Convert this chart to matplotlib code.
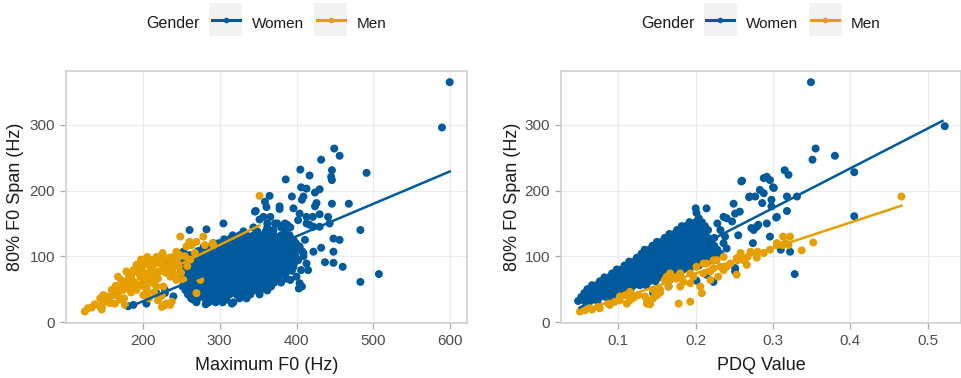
import numpy as np
import matplotlib.pyplot as plt
from matplotlib.patches import Rectangle
from matplotlib.lines import Line2D

plt.rcParams['font.family'] = ['Liberation Sans', 'DejaVu Sans']

W, H = 962, 378
BLUE = '#005A9C'
ORANGE = '#E69F00'

# ---------------- data ----------------
# left panel: Maximum F0 (Hz) vs 80% F0 span (Hz)
# dense core of the women's cloud, stored as rows: (span, [max F0 ...])
women_f0_core = [
    (30, [270, 286, 295, 304, 318]),
    (36, [263, 272, 281, 290, 299, 308, 326, 335]),
    (42, [259, 268, 277, 286, 295, 304, 313, 322, 331, 340, 352]),
    (48, [256, 263, 272, 281, 290, 299, 308, 317, 326, 335, 344, 353, 362]),
    (54, [252, 259, 268, 277, 286, 295, 304, 313, 322, 331, 340, 349, 358, 367]),
    (60, [254, 263, 272, 281, 290, 299, 308, 317, 326, 335, 344, 353, 362, 371, 380]),
    (66, [250, 259, 268, 277, 286, 295, 304, 313, 322, 331, 340, 349, 358, 367, 376, 387]),
    (72, [254, 263, 272, 281, 290, 299, 308, 317, 326, 335, 344, 353, 362, 371, 380]),
    (78, [250, 259, 268, 277, 286, 295, 304, 313, 322, 331, 340, 349, 358, 367, 376, 385, 394]),
    (84, [256, 263, 272, 281, 290, 299, 308, 317, 326, 335, 344, 353, 362, 371, 380, 389]),
    (90, [252, 259, 268, 277, 286, 295, 304, 313, 322, 331, 340, 349, 358, 367, 376, 385, 397]),
    (96, [257, 263, 272, 281, 290, 299, 308, 317, 326, 335, 344, 353, 362, 371, 380, 389, 400]),
    (102, [261, 268, 277, 286, 295, 304, 313, 322, 331, 340, 349, 358, 367, 376, 385, 394]),
    (108, [272, 281, 290, 299, 308, 317, 326, 335, 344, 353, 362, 371, 380, 389, 398, 407]),
    (114, [279, 286, 295, 304, 313, 322, 331, 340, 349, 358, 367, 376, 385, 394]),
    (120, [292, 299, 308, 317, 326, 335, 344, 353, 362, 371, 380, 389, 399]),
    (126, [306, 313, 322, 331, 340, 349, 358, 367, 376, 385, 394]),
    (132, [317, 326, 335, 344, 353, 362, 371, 380, 389]),
    (138, [331, 349, 360, 367, 385]),
    (144, [344, 362, 380, 392]),
    (150, [362, 375, 385]),
]
women_f0_scatter = [
    (599, 365), (589, 296), (491, 227), (483, 140), (483, 61), (507, 73), (468, 180),
    (460, 84), (448, 90), (448, 107), (432, 113), (437, 91), (422, 107), (456, 125),
    (448, 127), (446, 180), (449, 264), (456, 253), (432, 247), (446, 231), (446, 216),
    (445, 221), (405, 232), (417, 223), (386, 217), (406, 205), (430, 202), (424, 197),
    (409, 191), (394, 191), (407, 186), (424, 176), (430, 164), (378, 176), (365, 192),
    (359, 183), (347, 169), (357, 160), (366, 160), (372, 150), (396, 173), (404, 165),
    (413, 160), (402, 155), (413, 150), (422, 145), (441, 160), (443, 150), (430, 145),
    (385, 139), (391, 132), (380, 130), (396, 125), (404, 115), (409, 105), (402, 94),
    (396, 84), (400, 69), (404, 59), (403, 51), (390, 94), (383, 84), (413, 89),
    (415, 79), (386, 74), (374, 94), (361, 74), (359, 54), (344, 49), (339, 44),
    (326, 44), (309, 34), (292, 41), (274, 44), (266, 34), (240, 39), (229, 49),
    (218, 44), (205, 28), (188, 26), (181, 24), (231, 95), (253, 107), (261, 140),
    (283, 141), (229, 44), (229, 26), (261, 44), (305, 150), (346, 168), (361, 175),
    (378, 172), (411, 125), (409, 100), (406, 79), (407, 54), (417, 148), (421, 160),
    (426, 181), (413, 203), (392, 64), (398, 102), (388, 148), (370, 140), (352, 156),
    (316, 28), (282, 27),
]
men_f0 = [
    (125, 16), (129, 21), (145, 36), (149, 41), (153, 36), (147, 19), (158, 29), (166, 46),
    (168, 69), (171, 54), (175, 49), (179, 77), (181, 64), (186, 74), (188, 79), (192, 87),
    (199, 94), (197, 69), (205, 74), (210, 84), (214, 94), (218, 99), (223, 89), (227, 82),
    (231, 97), (236, 89), (240, 99), (244, 107), (249, 130), (257, 115), (264, 117),
    (270, 122), (279, 130), (281, 117), (292, 117), (291, 120), (171, 34), (164, 28),
    (177, 26), (229, 26), (238, 31), (218, 54), (209, 61), (240, 74), (244, 64), (275, 64),
    (352, 192), (268, 105), (147, 23), (153, 39), (176, 36), (179, 54), (199, 82),
    (198, 95), (210, 94), (214, 87), (223, 99), (220, 77), (231, 82), (236, 69),
    (261, 122), (248, 102), (242, 87), (210, 69), (201, 64), (188, 61), (192, 49),
    (201, 41), (214, 59), (227, 54), (231, 28), (225, 23), (236, 26), (244, 67),
    (253, 64), (270, 44), (145, 23), (160, 49), (183, 58), (205, 52), (195, 88),
    (206, 99), (226, 105), (185, 68), (195, 75), (215, 72), (225, 90), (235, 98),
    (245, 92), (255, 100), (190, 60), (200, 55), (215, 45), (225, 40), (185, 45),
    (175, 60), (165, 55), (160, 40), (208, 36), (220, 33), (250, 75), (258, 85),
    (262, 95), (172, 64), (182, 72), (193, 82), (203, 88), (212, 78), (220, 66),
    (230, 75), (238, 80), (247, 84), (196, 56), (206, 46), (168, 40), (155, 30),
    (138, 27), (134, 22),
]

# right panel: PDQ value vs 80% F0 span (Hz)
women_pdq_core = [
    (32, [0.048, 0.056, 0.064, 0.073]),
    (38, [0.052, 0.060, 0.068, 0.076, 0.084, 0.092]),
    (44, [0.056, 0.064, 0.072, 0.080, 0.088, 0.096, 0.104]),
    (50, [0.060, 0.068, 0.076, 0.084, 0.092, 0.100, 0.108, 0.116]),
    (56, [0.066, 0.072, 0.080, 0.088, 0.096, 0.104, 0.112, 0.120, 0.128, 0.136]),
    (62, [0.076, 0.084, 0.092, 0.100, 0.108, 0.116, 0.124, 0.132, 0.140, 0.148]),
    (68, [0.082, 0.088, 0.096, 0.104, 0.112, 0.120, 0.128, 0.136, 0.144, 0.152, 0.160]),
    (74, [0.092, 0.100, 0.108, 0.116, 0.124, 0.132, 0.140, 0.148, 0.156, 0.164, 0.172,
          0.180]),
    (80, [0.098, 0.104, 0.112, 0.120, 0.128, 0.136, 0.144, 0.152, 0.160, 0.168, 0.176,
          0.184, 0.192]),
    (86, [0.108, 0.116, 0.124, 0.132, 0.140, 0.148, 0.156, 0.164, 0.172, 0.180, 0.188,
          0.196, 0.204]),
    (92, [0.114, 0.120, 0.128, 0.136, 0.144, 0.152, 0.160, 0.168, 0.176, 0.184, 0.192,
          0.200, 0.208, 0.216]),
    (98, [0.124, 0.132, 0.140, 0.148, 0.156, 0.164, 0.172, 0.180, 0.188, 0.196, 0.204,
          0.212, 0.220]),
    (104, [0.130, 0.136, 0.144, 0.152, 0.160, 0.168, 0.176, 0.184, 0.192, 0.200, 0.208,
           0.216, 0.224, 0.232]),
    (110, [0.134, 0.140, 0.148, 0.156, 0.164, 0.172, 0.180, 0.188, 0.196, 0.204, 0.212,
           0.220, 0.228]),
    (116, [0.144, 0.152, 0.160, 0.168, 0.176, 0.184, 0.192, 0.200, 0.208, 0.216, 0.224]),
    (122, [0.150, 0.156, 0.164, 0.172, 0.180, 0.188, 0.196, 0.204, 0.212, 0.220]),
    (128, [0.160, 0.168, 0.176, 0.184, 0.192, 0.200, 0.208, 0.216, 0.224]),
    (134, [0.166, 0.172, 0.180, 0.188, 0.196, 0.204, 0.212]),
    (140, [0.176, 0.184, 0.192, 0.200, 0.208, 0.216]),
    (146, [0.182, 0.188, 0.196, 0.204, 0.212]),
    (152, [0.192, 0.200, 0.208]),
    (158, [0.204]),
]
women_pdq_scatter = [
    (0.349, 365), (0.522, 298), (0.355, 264), (0.351, 247), (0.380, 253), (0.405, 228),
    (0.405, 161), (0.328, 73), (0.315, 231), (0.320, 224), (0.300, 205), (0.292, 221),
    (0.288, 219), (0.283, 201), (0.288, 196), (0.260, 215), (0.270, 191), (0.277, 191),
    (0.286, 181), (0.298, 186), (0.318, 191), (0.331, 191), (0.318, 169), (0.305, 160),
    (0.292, 150), (0.296, 130), (0.279, 145), (0.272, 143), (0.274, 120), (0.255, 132),
    (0.249, 180), (0.240, 158), (0.251, 165), (0.257, 168), (0.247, 153), (0.214, 173),
    (0.201, 166), (0.310, 110), (0.322, 107), (0.251, 82), (0.251, 77), (0.223, 61),
    (0.214, 72), (0.201, 63), (0.165, 54), (0.145, 44), (0.236, 160), (0.275, 140),
    (0.281, 148), (0.200, 173), (0.269, 190), (0.259, 214), (0.232, 140), (0.238, 130),
    (0.228, 150), (0.296, 216), (0.301, 204), (0.298, 176), (0.304, 159), (0.240, 112),
    (0.236, 120),
]
men_pdq = [
    (0.0505, 16), (0.057, 18), (0.063, 21), (0.066, 19), (0.074, 23), (0.076, 21),
    (0.087, 28), (0.089, 26), (0.0955, 31), (0.102, 39), (0.102, 33), (0.109, 41),
    (0.111, 28), (0.115, 46), (0.115, 33), (0.120, 37), (0.126, 41), (0.1345, 39),
    (0.137, 28), (0.137, 33), (0.141, 27), (0.145, 36), (0.145, 49), (0.148, 41),
    (0.150, 41), (0.154, 45), (0.154, 49), (0.160, 64), (0.1625, 69), (0.165, 54),
    (0.167, 64), (0.167, 74), (0.175, 66), (0.176, 69), (0.178, 28), (0.180, 74),
    (0.180, 54), (0.184, 61), (0.193, 74), (0.193, 59), (0.193, 31), (0.197, 69),
    (0.201, 84), (0.206, 54), (0.208, 44), (0.210, 74), (0.210, 89), (0.214, 89),
    (0.219, 77), (0.219, 64), (0.223, 82), (0.223, 94), (0.227, 94), (0.229, 69),
    (0.232, 84), (0.236, 79), (0.236, 99), (0.240, 84), (0.245, 89), (0.253, 97),
    (0.253, 72), (0.254, 94), (0.257, 99), (0.258, 105), (0.262, 94), (0.266, 87),
    (0.267, 99), (0.271, 107), (0.279, 98), (0.280, 107), (0.288, 105), (0.296, 110),
    (0.305, 117), (0.305, 120), (0.312, 117), (0.313, 130), (0.316, 120), (0.320, 117),
    (0.322, 130), (0.337, 109), (0.352, 121), (0.466, 191),
]

# lm fit lines, end points as drawn
women_f0_fit = ([181, 599], [22, 229])
men_f0_fit = ([123, 352], [16, 147])
women_pdq_fit = ([0.05, 0.519], [22, 306])
men_pdq_fit = ([0.05, 0.466], [16, 177])

y_ticks = [0, 100, 200, 300]
f0_ticks = [200, 300, 400, 500, 600]
pdq_ticks = [0.1, 0.2, 0.3, 0.4, 0.5]


def unpack_rows(rows):
    xs = [x for y, row in rows for x in row]
    ys = [y for y, row in rows for x in row]
    return xs, ys


def unpack_pts(pts):
    return [p[0] for p in pts], [p[1] for p in pts]


def style(ax):
    ax.grid(True, color='#EBEBEB', lw=0.9)
    ax.set_axisbelow(True)
    for s in ax.spines.values():
        s.set_color('#D0D0D0')
        s.set_linewidth(1.2)
    ax.tick_params(length=4.3, width=0.9, color='#A8A8A8', labelsize=11,
                   labelcolor='#4D4D4D', pad=3.5)


def legend(fig, ax):
    bb = ax.get_position()
    cx = (bb.x0 + bb.x1) / 2 * W
    fx = lambda px: px / W
    fy = lambda py: 1 - py / H
    base = fy(27.5)
    fig.text(fx(cx - 120), base, 'Gender', fontsize=11.5, color='#1A1A1A', va='baseline')
    for x0, col, lab in [(cx - 57, BLUE, 'Women'), (cx + 48, ORANGE, 'Men')]:
        fig.patches.append(Rectangle((fx(x0), fy(36)), 33 / W, 33 / H,
                                     transform=fig.transFigure, facecolor='#F2F2F2',
                                     edgecolor='none'))
        fig.lines.append(Line2D([fx(x0 + 2.5), fx(x0 + 30.5)], [fy(19.5), fy(19.5)],
                                transform=fig.transFigure, color=col, lw=2.2))
        fig.lines.append(Line2D([fx(x0 + 16.5)], [fy(19.5)], transform=fig.transFigure,
                                color=col, marker='o', ms=4, mec='none'))
        fig.text(fx(x0 + 42), base, lab, fontsize=11, color='#1A1A1A', va='baseline')


fig = plt.figure(figsize=(W / 100, H / 100), dpi=100)
ax1 = fig.add_axes([66 / W, 55 / H, 401 / W, 252 / H])
ax2 = fig.add_axes([561 / W, 55 / H, 400 / W, 252 / H])

DOT = 33

# left panel
wx, wy = unpack_rows(women_f0_core)
sx, sy = unpack_pts(women_f0_scatter)
mx, my = unpack_pts(men_f0)
ax1.scatter(wx + sx, wy + sy, s=DOT, color=BLUE, edgecolors='none', zorder=2)
ax1.scatter(mx, my, s=DOT, color=ORANGE, edgecolors='none', zorder=3)
ax1.plot(*women_f0_fit, color=BLUE, lw=1.8, zorder=4)
ax1.plot(*men_f0_fit, color=ORANGE, lw=1.8, zorder=4)
ax1.set_xlim(100.5, 621.5)
ax1.set_ylim(-1.5, 382)
ax1.set_xticks(f0_ticks)
ax1.set_yticks(y_ticks)
ax1.set_xlabel('Maximum F0 (Hz)', fontsize=13, color='#1A1A1A')
ax1.set_ylabel('80% F0 Span (Hz)', fontsize=13, color='#1A1A1A')
ax1.xaxis.set_label_coords(0.5, -42 / 252)
ax1.xaxis.label.set_va('center')
ax1.yaxis.set_label_coords(-50 / 401, 0.5)
ax1.yaxis.label.set_va('center')
style(ax1)

# right panel
wx, wy = unpack_rows(women_pdq_core)
sx, sy = unpack_pts(women_pdq_scatter)
mx, my = unpack_pts(men_pdq)
ax2.scatter(wx + sx, wy + sy, s=DOT, color=BLUE, edgecolors='none', zorder=2)
ax2.scatter(mx, my, s=DOT, color=ORANGE, edgecolors='none', zorder=3)
ax2.plot(*women_pdq_fit, color=BLUE, lw=1.8, zorder=4)
ax2.plot(*men_pdq_fit, color=ORANGE, lw=1.8, zorder=4)
ax2.set_xlim(0.0259, 0.543)
ax2.set_ylim(-1.5, 382)
ax2.set_xticks(pdq_ticks)
ax2.set_yticks(y_ticks)
ax2.set_xlabel('PDQ Value', fontsize=13, color='#1A1A1A')
ax2.set_ylabel('80% F0 Span (Hz)', fontsize=13, color='#1A1A1A')
ax2.xaxis.set_label_coords(0.5, -42 / 252)
ax2.xaxis.label.set_va('center')
ax2.yaxis.set_label_coords(-48.5 / 400, 0.5)
ax2.yaxis.label.set_va('center')
style(ax2)

legend(fig, ax1)
legend(fig, ax2)

fig.savefig('out.png', dpi=100)
